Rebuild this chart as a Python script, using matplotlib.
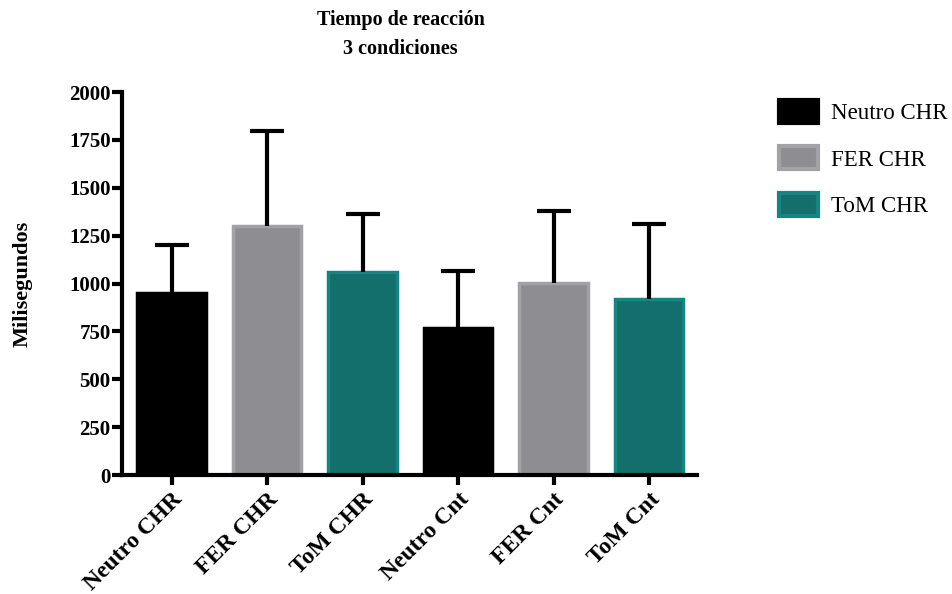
import matplotlib
matplotlib.use("Agg")
import matplotlib.pyplot as plt
from matplotlib.patches import Patch
import numpy as np

categories = ["Neutro CHR", "FER CHR", "ToM CHR", "Neutro Cnt", "FER Cnt", "ToM Cnt"]
means = [950, 1300, 1060, 768, 1003, 919]
upper_err = [251, 496, 303, 297, 376, 392]
legend_labels = ["Neutro CHR", "FER CHR", "ToM CHR"]

face = ["#000000", "#8e8d91", "#136f6b"] * 2
edge = ["#000000", "#a2a1a6", "#168481"] * 2

plt.rcParams['font.family'] = ['Liberation Serif', 'DejaVu Serif']

fig = plt.figure(figsize=(9.52, 5.94), dpi=100)
ax = fig.add_axes([0.128, 0.2003, 0.604, 0.6447])

x = np.arange(len(categories))
ax.bar(x, means, width=0.72, color=face, edgecolor=edge, linewidth=2.5, zorder=2)
eb = ax.errorbar(x, means, yerr=[np.zeros(len(means)), upper_err], fmt='none',
                 ecolor='black', elinewidth=3, capsize=12, capthick=3, zorder=3)
eb[1][0].set_visible(False)

ax.set_xlim(-0.52, 5.5)
ax.set_ylim(0, 2000)
ax.set_yticks(np.arange(0, 2001, 250))
ax.set_xticks(x)
ax.set_xticklabels(categories, rotation=45, ha='right', rotation_mode='anchor',
                   fontsize=17, fontweight='bold')
for lab in ax.get_yticklabels():
    lab.set_fontsize(15)
    lab.set_fontweight('bold')
ax.tick_params(axis='both', width=3, length=7, direction='out', pad=1)
ax.tick_params(axis='x', pad=3)
for s in ['top', 'right']:
    ax.spines[s].set_visible(False)
for s in ['left', 'bottom']:
    ax.spines[s].set_linewidth(3)

ax.set_ylabel("Milisegundos", fontsize=16, fontweight='bold', labelpad=26)
fig.text(0.421, 0.984, "Tiempo de reacción\n3 condiciones", ha='center', va='top',
         fontsize=14.5, fontweight='bold', linespacing=1.65)

handles = [Patch(facecolor=face[i], edgecolor=edge[i], linewidth=3, label=legend_labels[i])
           for i in range(3)]
fig.legend(handles=handles, loc='upper left', bbox_to_anchor=(0.818, 0.832),
           frameon=False, fontsize=16.5, handlelength=1.7, handleheight=1.15,
           labelspacing=0.98, handletextpad=0.6, borderaxespad=0, borderpad=0)

fig.savefig("out.png", dpi=100)
